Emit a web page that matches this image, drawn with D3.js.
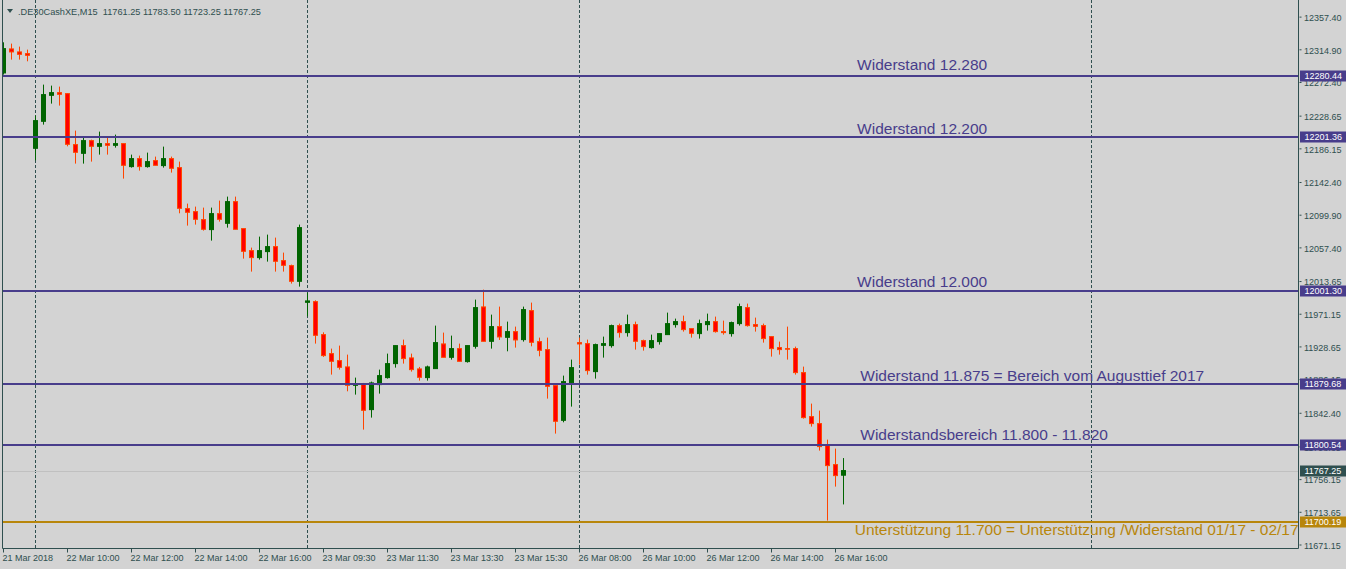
<!DOCTYPE html>
<html>
<head>
<meta charset="utf-8">
<script src="https://cdn.jsdelivr.net/npm/d3@7/dist/d3.min.js"></script>
<style>
  html, body { margin: 0; padding: 0; background: #D3D3D3; }
  svg { display: block; }
</style>
</head>
<body>
<svg id="chart" width="1346" height="569"></svg>
<script>
// ---------------- DATA ----------------
const symbolTitle = ".DE30CashXE,M15  11761.25 11783.50 11723.25 11767.25";

const opens = [12284.2,12315.4,12311.5,12309.3,12186.2,12221.3,12255.1,12258.6,12257.3,12191.0,
  12179.7,12196.2,12188.8,12192.3,12190.1,12192.3,12162.4,12172.8,12162.4,12170.2,
  12163.7,12172.8,12161.1,12107.8,12103.9,12093.5,12080.5,12101.3,12088.7,12116.9,
  12081.8,12053.2,12044.1,12051.9,12058.4,12040.2,12033.7,12013.3,11986.0,11986.9,
  11944.0,11919.3,11910.2,11902.0,11878.1,11880.3,11846.5,11879.0,11888.1,11906.3,
  11929.7,11913.7,11899.4,11888.1,11899.8,11931.9,11914.5,11925.8,11908.9,11928.8,
  11980.0,11935.3,11954.4,11940.5,11947.9,11937.5,11975.2,11934.9,11924.5,11877.7,
  11832.6,11881.6,11933.6,11932.3,11895.9,11930.1,11929.7,11955.7,11946.6,11957.0,
  11936.2,11927.1,11934.9,11944.0,11957.0,11960.9,11951.8,11945.3,11957.0,11960.9,
  11947.9,11945.3,11958.3,11979.1,11957.0,11955.7,11941.4,11927.1,11925.8,11925.8,
  11894.6,11837.4,11828.3,11799.7,11775.0,11761.25];
const highs = [12324.0,12322.3,12318.4,12314.5,12228.7,12269.0,12267.7,12266.4,12258.0,12209.2,
  12200.5,12197.5,12207.9,12200.5,12204.0,12192.3,12178.0,12176.7,12180.6,12175.4,
  12188.4,12175.4,12168.9,12114.3,12110.4,12109.1,12109.1,12118.2,12123.4,12123.4,
  12081.8,12057.1,12071.4,12074.0,12070.1,12050.6,12035.0,12087.0,11998.6,11988.6,
  11947.0,11925.8,11929.7,11918.0,11888.1,11881.2,11882.9,11898.5,11919.3,11929.7,
  11937.5,11919.3,11902.0,11903.7,11955.7,11946.6,11942.7,11932.3,11929.7,11989.5,
  12002.5,11970.0,11980.4,11960.9,11954.4,11980.4,11985.6,11940.1,11940.1,11877.7,
  11890.7,11911.5,11940.1,11937.5,11932.3,11941.4,11957.0,11958.3,11970.0,11960.9,
  11937.5,11944.0,11945.3,11972.6,11964.8,11968.7,11951.8,11963.5,11971.3,11967.4,
  11962.2,11960.9,11984.3,11984.3,11966.1,11958.3,11941.4,11934.9,11954.4,11928.4,
  11902.4,11854.3,11845.2,11807.5,11795.8,11783.50];
const lows = [12282.0,12301.5,12301.5,12299.3,12170.6,12217.0,12244.3,12241.7,12188.8,12166.3,
  12166.3,12168.9,12178.0,12178.0,12187.1,12146.8,12161.1,12157.2,12161.1,12164.1,
  12161.1,12154.6,12101.7,12085.7,12087.0,12079.2,12066.2,12090.9,12083.1,12080.9,
  12042.8,12025.9,12041.5,12038.9,12025.9,12025.9,12010.3,12006.4,11967.8,11932.3,
  11915.0,11892.0,11898.5,11870.3,11866.0,11820.5,11836.1,11867.3,11886.8,11901.1,
  11906.3,11895.9,11884.2,11884.2,11899.8,11914.5,11911.5,11909.3,11907.6,11925.8,
  11935.3,11925.8,11937.1,11922.3,11927.1,11934.9,11928.8,11915.8,11860.8,11815.3,
  11830.0,11850.4,11905.0,11892.0,11886.8,11914.1,11927.1,11940.1,11941.4,11924.5,
  11923.2,11925.8,11931.0,11944.0,11953.1,11947.9,11940.1,11938.8,11949.2,11946.6,
  11944.0,11941.4,11955.7,11954.4,11947.9,11933.6,11915.4,11918.0,11911.5,11892.0,
  11834.8,11824.4,11793.2,11702.2,11746.4,11723.25];
const closes = [12315.8,12311.5,12308.4,12307.1,12222.2,12256.0,12258.6,12256.4,12191.4,12181.0,
  12196.2,12188.8,12192.3,12190.1,12192.3,12164.1,12172.8,12162.4,12168.9,12164.1,
  12172.8,12160.2,12108.2,12103.0,12093.9,12080.9,12101.3,12093.9,12116.9,12080.9,
  12052.3,12044.1,12053.2,12058.4,12039.3,12034.1,12013.3,12083.1,11987.8,11943.1,
  11916.7,11909.3,11901.5,11878.1,11879.9,11845.6,11881.2,11890.7,11906.3,11929.7,
  11912.8,11898.5,11888.5,11902.0,11933.6,11914.5,11925.8,11909.3,11929.7,11979.1,
  11935.3,11954.4,11941.0,11947.9,11937.1,11976.5,11934.0,11923.6,11876.8,11831.3,
  11882.9,11901.1,11931.9,11897.2,11931.0,11932.3,11955.7,11946.6,11957.0,11935.3,
  11928.4,11936.2,11945.3,11958.3,11960.9,11950.5,11945.7,11958.3,11960.9,11947.9,
  11946.6,11959.6,11980.4,11955.7,11954.8,11938.8,11925.8,11924.5,11925.2,11894.6,
  11836.1,11828.3,11798.4,11773.7,11760.7,11767.25];

// time axis labels, every 8 bars (M15)
const timeTickIndex = [0,8,16,24,32,40,48,56,64,72,80,88,96,104];
const timeTickLabels = ["21 Mar 2018","22 Mar 10:00","22 Mar 12:00","22 Mar 14:00","22 Mar 16:00",
  "23 Mar 09:30","23 Mar 11:30","23 Mar 13:30","23 Mar 15:30","26 Mar 08:00","26 Mar 10:00",
  "26 Mar 12:00","26 Mar 14:00","26 Mar 16:00"];
// day separators (bar index of first bar of each day)
const daySeparators = [4, 38, 72, 136];

const priceTicks = [12357.40,12314.90,12272.40,12228.65,12186.15,12142.40,12099.90,12057.40,
  12013.65,11971.15,11928.65,11886.15,11842.40,11798.65,11756.15,11713.65,11671.15];

const levelPrices = [12280.44, 12201.36, 12001.30, 11879.68, 11800.54, 11700.19];
const levelKinds  = ["res","res","res","res","res","sup"];

const noteTexts = ["Widerstand 12.280","Widerstand 12.200","Widerstand 12.000",
  "Widerstand 11.875 = Bereich vom Augusttief 2017","Widerstandsbereich 11.800 - 11.820",
  "Unterstützung 11.700 = Unterstützung /Widerstand 01/17 - 02/17"];
const notePrices = [12288.5, 12204.6, 12005.7, 11883.3, 11806.9, 11683.4];   // baseline price
const noteBars   = [106.7, 106.7, 106.7, 107.1, 107.1, 106.4];               // bar index of text start
const noteKinds  = ["res","res","res","res","res","sup"];

const lastPrice = 11767.25;

// ---------------- STYLE ----------------
const W = 1346, H = 569;
const plotLeft = 2.5, plotRight = 1298.5, plotBottom = 548.5;
const axisColor = "#2F4F4F";
const resColor = "#483D8B", supColor = "#B8860B";
const bullColor = "#006400", bearFill = "#FF0000", bearStroke = "#FF4500";
const font = "'Liberation Sans', Arial, sans-serif";

const svg = d3.select("#chart");

const x = d3.scaleLinear().domain([0, 1]).range([3.5, 11.5]);
const y = d3.scaleLinear().domain([11666.6, 12379.0]).range([548, 0]);

svg.append("rect").attr("width", W).attr("height", H).attr("fill", "#D3D3D3");

svg.append("defs").append("clipPath").attr("id", "plotclip")
  .append("rect").attr("x", 3).attr("y", 0).attr("width", plotRight - 3).attr("height", 548);

const plot = svg.append("g").attr("clip-path", "url(#plotclip)");

// day separators
plot.selectAll("line.sep").data(daySeparators).join("line")
  .attr("class", "sep")
  .attr("x1", d => Math.floor(x(d)) + 0.5).attr("x2", d => Math.floor(x(d)) + 0.5)
  .attr("y1", 0).attr("y2", 548)
  .attr("stroke", axisColor).attr("stroke-width", 1).attr("stroke-dasharray", "3,2");

// current price line
plot.append("line")
  .attr("x1", 3).attr("x2", plotRight)
  .attr("y1", Math.round(y(lastPrice)) + 0.5).attr("y2", Math.round(y(lastPrice)) + 0.5)
  .attr("stroke", "#C0C0C0").attr("stroke-width", 1);

// candles
const bars = d3.range(opens.length).map(i => ({i, o: opens[i], h: highs[i], l: lows[i], c: closes[i]}));
const cg = plot.selectAll("g.candle").data(bars).join("g").attr("class", "candle");
cg.append("line")
  .attr("x1", d => Math.floor(x(d.i)) + 0.5).attr("x2", d => Math.floor(x(d.i)) + 0.5)
  .attr("y1", d => y(d.h)).attr("y2", d => y(d.l))
  .attr("stroke", d => d.c >= d.o ? bullColor : bearStroke).attr("stroke-width", 1);
cg.append("rect")
  .attr("x", d => Math.floor(x(d.i)) - 1.5)
  .attr("width", 4)
  .attr("y", d => y(Math.max(d.o, d.c)))
  .attr("height", d => Math.max(0.6, Math.abs(y(d.o) - y(d.c))))
  .attr("fill", d => d.c >= d.o ? bullColor : bearFill)
  .attr("stroke", d => d.c >= d.o ? bullColor : bearStroke)
  .attr("stroke-width", 1);

// level lines
plot.selectAll("line.level").data(levelPrices).join("line")
  .attr("class", "level")
  .attr("x1", 3).attr("x2", plotRight)
  .attr("y1", d => Math.round(y(d))).attr("y2", d => Math.round(y(d)))
  .attr("stroke", (d, i) => levelKinds[i] === "sup" ? supColor : resColor)
  .attr("stroke-width", 2);

// notes
svg.selectAll("text.note").data(noteTexts).join("text")
  .attr("class", "note")
  .attr("x", (d, i) => x(noteBars[i]))
  .attr("y", (d, i) => y(notePrices[i]))
  .attr("font-family", font).attr("font-size", 15.5)
  .attr("fill", (d, i) => noteKinds[i] === "sup" ? supColor : resColor)
  .text(d => d);

// frame lines
svg.append("line").attr("x1", plotLeft).attr("x2", plotLeft).attr("y1", 0).attr("y2", plotBottom)
  .attr("stroke", axisColor);
svg.append("line").attr("x1", plotRight).attr("x2", plotRight).attr("y1", 0).attr("y2", plotBottom)
  .attr("stroke", axisColor);
svg.append("line").attr("x1", plotLeft).attr("x2", plotRight).attr("y1", plotBottom).attr("y2", plotBottom)
  .attr("stroke", axisColor);

// right price axis
const yAxis = d3.axisRight(y).tickValues(priceTicks).tickSize(3).tickSizeOuter(0)
  .tickFormat(d => d.toFixed(2));
const ya = svg.append("g").attr("transform", `translate(${plotRight},0)`).call(yAxis);
ya.select(".domain").remove();
ya.selectAll(".tick line").attr("stroke", axisColor).attr("x1", 1);
ya.selectAll(".tick text").attr("x", 5.5).attr("dy", "0.42em")
  .attr("font-family", font).attr("font-size", 9).attr("fill", axisColor);

// bottom time axis
const xAxis = d3.axisBottom(x).tickValues(timeTickIndex).tickSize(4).tickSizeOuter(0)
  .tickFormat((d, i) => timeTickLabels[i]);
const xa = svg.append("g").attr("transform", `translate(0,${plotBottom})`).call(xAxis);
xa.select(".domain").remove();
xa.selectAll(".tick").attr("transform", d => `translate(${Math.floor(x(d)) + 0.5},0)`);
xa.selectAll(".tick line").attr("stroke", axisColor);
xa.selectAll(".tick text").attr("text-anchor", "start").attr("x", -1).attr("y", 12.5).attr("dy", null)
  .attr("font-family", font).attr("font-size", 9).attr("fill", axisColor);

// price level boxes
const boxes = levelPrices.map((p, i) => ({p, color: levelKinds[i] === "sup" ? supColor : resColor}));
boxes.push({p: lastPrice, color: axisColor});
const bg = svg.selectAll("g.box").data(boxes).join("g").attr("class", "box")
  .attr("transform", d => `translate(1300,${Math.round(y(d.p))})`);
bg.append("rect").attr("x", 0).attr("y", -5.5).attr("width", 46).attr("height", 11)
  .attr("fill", d => d.color);
bg.append("text").attr("x", 4.5).attr("y", 0).attr("dy", "0.36em")
  .attr("font-family", font).attr("font-size", 9).attr("fill", "#FFFFFF")
  .text(d => d.p.toFixed(2));

// header
svg.append("path").attr("d", d3.line()([[7, 9], [13, 9], [10, 13]]) + "Z").attr("fill", axisColor);
svg.append("text").attr("x", 18).attr("y", 14.5)
  .attr("font-family", font).attr("font-size", 9.2).attr("fill", axisColor)
  .attr("xml:space", "preserve").style("white-space", "pre")
  .text(symbolTitle);
</script>
</body>
</html>
